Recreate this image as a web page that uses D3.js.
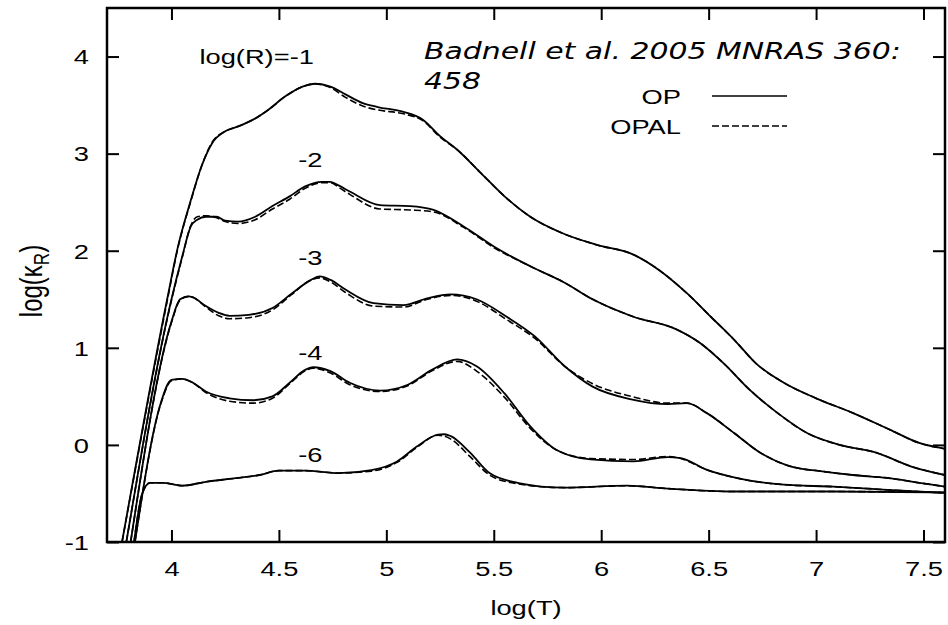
<!DOCTYPE html>
<html>
<head>
<meta charset="utf-8">
<script src="https://cdn.jsdelivr.net/npm/d3@7"></script>
<style>
  html, body { margin: 0; padding: 0; background: #fff; }
  svg { display: block; }
</style>
</head>
<body>
<script>
// ---------------- data ----------------
const xTicks = [4, 4.5, 5, 5.5, 6, 6.5, 7, 7.5];
const yTicks = [-1, 0, 1, 2, 3, 4];

const logT_m1 = [3.77, 3.98, 4.03, 4.09, 4.14, 4.19, 4.25, 4.31, 4.38, 4.45, 4.53, 4.61, 4.67, 4.74, 4.81, 4.89, 4.96, 5.08, 5.17, 5.25, 5.33, 5.44, 5.55, 5.67, 5.82, 5.98, 6.15, 6.27, 6.40, 6.51, 6.62, 6.72, 6.85, 7.00, 7.17, 7.34, 7.48, 7.60];
const op_m1   = [-1.00, 1.50, 2.04, 2.52, 2.87, 3.11, 3.23, 3.28, 3.35, 3.45, 3.59, 3.69, 3.72, 3.69, 3.61, 3.52, 3.48, 3.43, 3.35, 3.18, 3.04, 2.80, 2.56, 2.35, 2.18, 2.06, 1.96, 1.80, 1.56, 1.32, 1.08, 0.84, 0.64, 0.48, 0.33, 0.16, 0.02, -0.04];
const opal_m1 = [-1.00, 1.48, 2.03, 2.51, 2.87, 3.12, 3.23, 3.28, 3.35, 3.45, 3.59, 3.69, 3.72, 3.68, 3.58, 3.49, 3.45, 3.41, 3.34, 3.17, 3.04, 2.80, 2.56, 2.35, 2.18, 2.06, 1.96, 1.80, 1.56, 1.32, 1.08, 0.84, 0.64, 0.48, 0.33, 0.16, 0.02, -0.04];

const logT_m2 = [3.79, 4.00, 4.05, 4.09, 4.12, 4.16, 4.21, 4.25, 4.31, 4.39, 4.47, 4.55, 4.62, 4.70, 4.74, 4.78, 4.83, 4.97, 5.11, 5.22, 5.36, 5.51, 5.67, 5.83, 5.96, 6.15, 6.35, 6.46, 6.57, 6.69, 6.82, 6.96, 7.11, 7.28, 7.44, 7.60];
const op_m2   = [-1.00, 1.50, 1.94, 2.25, 2.32, 2.35, 2.35, 2.31, 2.30, 2.35, 2.46, 2.56, 2.66, 2.71, 2.71, 2.67, 2.61, 2.47, 2.46, 2.42, 2.25, 2.03, 1.84, 1.67, 1.50, 1.32, 1.19, 1.05, 0.84, 0.57, 0.33, 0.12, 0.00, -0.08, -0.22, -0.31];
const opal_m2 = [-1.00, 1.49, 1.93, 2.26, 2.35, 2.36, 2.34, 2.30, 2.28, 2.32, 2.43, 2.53, 2.64, 2.70, 2.70, 2.65, 2.58, 2.43, 2.42, 2.40, 2.24, 2.02, 1.84, 1.67, 1.50, 1.32, 1.19, 1.05, 0.84, 0.57, 0.33, 0.12, 0.00, -0.08, -0.22, -0.31];

const logT_m3 = [3.81, 4.00, 4.04, 4.08, 4.10, 4.16, 4.22, 4.27, 4.36, 4.47, 4.56, 4.65, 4.69, 4.74, 4.81, 4.94, 5.08, 5.19, 5.30, 5.42, 5.56, 5.69, 5.83, 5.96, 6.14, 6.31, 6.40, 6.49, 6.62, 6.74, 6.88, 7.02, 7.17, 7.33, 7.48, 7.60];
const op_m3   = [-1.00, 1.27, 1.50, 1.53, 1.52, 1.43, 1.36, 1.33, 1.34, 1.41, 1.56, 1.70, 1.735, 1.70, 1.60, 1.46, 1.44, 1.51, 1.55, 1.50, 1.32, 1.12, 0.81, 0.60, 0.47, 0.42, 0.43, 0.33, 0.12, -0.08, -0.22, -0.27, -0.31, -0.34, -0.39, -0.43];
const opal_m3 = [-1.00, 1.26, 1.49, 1.53, 1.52, 1.42, 1.33, 1.30, 1.31, 1.39, 1.55, 1.70, 1.72, 1.68, 1.57, 1.43, 1.42, 1.50, 1.54, 1.48, 1.29, 1.10, 0.81, 0.63, 0.50, 0.43, 0.43, 0.33, 0.12, -0.08, -0.22, -0.27, -0.31, -0.34, -0.39, -0.43];

const logT_m4 = [3.83, 3.95, 4.00, 4.05, 4.10, 4.16, 4.27, 4.38, 4.47, 4.55, 4.62, 4.66, 4.74, 4.83, 4.97, 5.10, 5.21, 5.33, 5.42, 5.55, 5.67, 5.79, 5.95, 6.15, 6.31, 6.37, 6.49, 6.65, 6.85, 7.08, 7.31, 7.60];
const op_m4   = [-1.00, 0.43, 0.67, 0.68, 0.64, 0.55, 0.48, 0.46, 0.50, 0.64, 0.77, 0.80, 0.76, 0.64, 0.56, 0.62, 0.77, 0.88, 0.81, 0.53, 0.19, -0.05, -0.15, -0.17, -0.125, -0.135, -0.255, -0.35, -0.41, -0.43, -0.46, -0.495];
const opal_m4 = [-1.00, 0.42, 0.66, 0.68, 0.64, 0.54, 0.45, 0.43, 0.48, 0.63, 0.76, 0.79, 0.74, 0.62, 0.55, 0.61, 0.76, 0.86, 0.76, 0.49, 0.17, -0.05, -0.14, -0.15, -0.12, -0.14, -0.255, -0.35, -0.41, -0.43, -0.46, -0.495];

const logT_m6 = [3.826, 3.864, 3.90, 3.96, 4.05, 4.16, 4.31, 4.41, 4.50, 4.62, 4.78, 4.93, 5.05, 5.14, 5.24, 5.27, 5.30, 5.39, 5.48, 5.61, 5.83, 6.12, 6.31, 6.62, 7.08, 7.60];
const op_m6   = [-1.00, -0.50, -0.39, -0.39, -0.42, -0.38, -0.34, -0.31, -0.265, -0.265, -0.29, -0.26, -0.17, -0.02, 0.105, 0.11, 0.09, -0.08, -0.29, -0.39, -0.44, -0.42, -0.45, -0.48, -0.48, -0.49];
const opal_m6 = [-1.00, -0.50, -0.39, -0.39, -0.42, -0.38, -0.34, -0.31, -0.265, -0.265, -0.29, -0.27, -0.18, -0.03, 0.10, 0.09, 0.06, -0.12, -0.31, -0.40, -0.44, -0.42, -0.45, -0.48, -0.48, -0.49];

const curveLabels = ["-2", "-3", "-4", "-6"];
const curveLabelPos = [[4.59, 2.86], [4.59, 1.85], [4.59, 0.875], [4.59, -0.175]];
const firstLabel = "log(R)=-1";
const firstLabelPos = [4.13, 3.92];
const legendNames = ["OP", "OPAL"];
const citeLines = ["Badnell et al. 2005 MNRAS 360:", "458"];

// ---------------- layout ----------------
const W = 948, H = 625;
const margin = { left: 107, right: 3, top: 8, bottom: 83 };
const SX = 1.3; // horizontal stretch of all lettering

const svg = d3.select("body").append("svg").attr("width", W).attr("height", H);
svg.append("rect").attr("width", W).attr("height", H).attr("fill", "#fff");

const x = d3.scaleLinear().domain([3.7, 7.6]).range([margin.left, W - margin.right]);
const y = d3.scaleLinear().domain([-1, 4.5]).range([H - margin.bottom, margin.top]);

svg.append("defs").append("clipPath").attr("id", "plot")
  .append("rect").attr("x", x(3.7)).attr("y", y(4.5))
  .attr("width", x(7.6) - x(3.7)).attr("height", y(-1) - y(4.5));

const fontMain = "'Liberation Sans', Arial, Helvetica, sans-serif";
const fmt = d => String(d);

// axes (ticks inward)
const axB = svg.append("g").attr("transform", `translate(0,${y(-1)})`)
  .call(d3.axisBottom(x).tickValues(xTicks).tickSizeInner(-12).tickSizeOuter(0).tickPadding(19).tickFormat(fmt));
const axL = svg.append("g").attr("transform", `translate(${x(3.7)},0)`)
  .call(d3.axisLeft(y).tickValues(yTicks).tickSizeInner(-12).tickSizeOuter(0).tickPadding(18 / SX).tickFormat(fmt));
const axT = svg.append("g").attr("transform", `translate(0,${y(4.5)})`)
  .call(d3.axisTop(x).tickValues(xTicks).tickSizeInner(-12).tickSizeOuter(0).tickFormat(""));
const axR = svg.append("g").attr("transform", `translate(${x(7.6)},0)`)
  .call(d3.axisRight(y).tickValues(yTicks).tickSizeInner(-12).tickSizeOuter(0).tickFormat(""));

[axB, axL, axT, axR].forEach(g => {
  g.select(".domain").remove();
  g.selectAll("line").attr("stroke", "#000").attr("stroke-width", 2);
  g.selectAll("text").attr("fill", "#000").attr("font-family", fontMain).attr("font-size", 21)
    .attr("transform", `scale(${SX},1)`);
});
axB.selectAll("text").attr("y", 34).attr("dy", null);
axL.selectAll("text").attr("dy", "0.35em");

// frame
svg.append("rect").attr("x", x(3.7)).attr("y", y(4.5))
  .attr("width", x(7.6) - x(3.7)).attr("height", y(-1) - y(4.5))
  .attr("fill", "none").attr("stroke", "#000").attr("stroke-width", 2.5);

// curves
const series = [
  [logT_m1, op_m1, opal_m1],
  [logT_m2, op_m2, opal_m2],
  [logT_m3, op_m3, opal_m3],
  [logT_m4, op_m4, opal_m4],
  [logT_m6, op_m6, opal_m6]
];
const line = d3.line().x(d => x(d[0])).y(d => y(d[1])).curve(d3.curveMonotoneX);
const gCurves = svg.append("g").attr("clip-path", "url(#plot)");
series.forEach(([xs, op, opal]) => {
  gCurves.append("path").datum(xs.map((v, i) => [v, opal[i]]))
    .attr("d", line).attr("fill", "none").attr("stroke", "#000")
    .attr("stroke-width", 1.6).attr("stroke-dasharray", "7,3");
  gCurves.append("path").datum(xs.map((v, i) => [v, op[i]]))
    .attr("d", line).attr("fill", "none").attr("stroke", "#000")
    .attr("stroke-width", 1.8);
});

// helper for stretched text
function stext(tx, ty, str, opts = {}) {
  return svg.append("text")
    .attr("transform", `translate(${tx},${ty}) scale(${SX},1)`)
    .attr("font-family", opts.family || fontMain)
    .attr("font-size", opts.size || 21)
    .attr("font-style", opts.style || "normal")
    .attr("text-anchor", opts.anchor || "start")
    .attr("fill", "#000")
    .text(str);
}

// curve labels
stext(x(firstLabelPos[0]), y(firstLabelPos[1]), firstLabel);
curveLabels.forEach((lab, i) => {
  stext(x(curveLabelPos[i][0]), y(curveLabelPos[i][1]), lab);
});

// citation
stext(424, 59, citeLines[0], { family: "'DejaVu Sans', sans-serif", size: 23, style: "italic" });
stext(424, 89, citeLines[1], { family: "'DejaVu Sans', sans-serif", size: 23, style: "italic" });

// legend
stext(681, 104, legendNames[0], { anchor: "end" });
stext(681, 134, legendNames[1], { anchor: "end" });
svg.append("line").attr("x1", 712).attr("x2", 787).attr("y1", 96).attr("y2", 96)
  .attr("stroke", "#000").attr("stroke-width", 1.6);
svg.append("line").attr("x1", 712).attr("x2", 787).attr("y1", 126).attr("y2", 126)
  .attr("stroke", "#000").attr("stroke-width", 1.6).attr("stroke-dasharray", "7,3");

// axis titles
stext((x(3.7) + x(7.6)) / 2, 615, "log(T)", { anchor: "middle" });
const yl = svg.append("text")
  .attr("transform", `translate(42,281) scale(${SX},1) rotate(-90)`)
  .attr("font-family", fontMain).attr("font-size", 24)
  .attr("text-anchor", "middle").attr("fill", "#000");
yl.append("tspan").text("log(κ");
yl.append("tspan").attr("font-size", 17).attr("dy", 5).text("R");
yl.append("tspan").attr("dy", -5).text(")");
</script>
</body>
</html>
